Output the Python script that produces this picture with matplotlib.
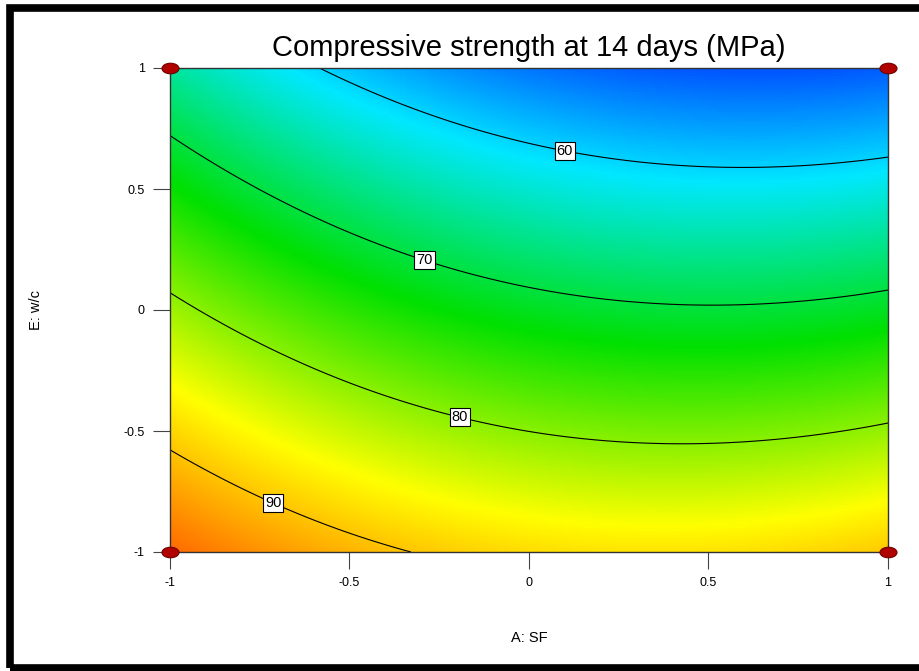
import numpy as np
import matplotlib
matplotlib.use("Agg")
import matplotlib.pyplot as plt
from matplotlib.colors import LinearSegmentedColormap
from matplotlib.patches import Rectangle
from matplotlib.path import Path
from matplotlib.transforms import Affine2D

plt.rcParams['font.family'] = ['Liberation Sans', 'DejaVu Sans']

# quadratic model: b0, bA, bE, bAA, bEE, bAE
coef = [71.57, -4.8, -16.8, 4.73, 0.0, -1.4]
levels = [60, 70, 80, 90]
label_pos = [(0.10, 0.66), (-0.29, 0.21), (-0.19, -0.43), (-0.71, -0.79)]

# design points at the corners
pts_A = [-1, 1, -1, 1]
pts_E = [-1, -1, 1, 1]

xticks = [-1, -0.5, 0, 0.5, 1]
yticks = [-1, -0.5, 0, 0.5, 1]

a = np.linspace(-1, 1, 300)
e = np.linspace(-1, 1, 300)
A, E = np.meshgrid(a, e)
b0, bA, bE, bAA, bEE, bAE = coef
Z = b0 + bA * A + bE * E + bAA * A**2 + bEE * E**2 + bAE * A * E

# colour stops (value -> colour), Design-Expert like rainbow
vmin, vmax = 48, 104
stops = [(48, "#0000ff"), (61, "#00e8ff"), (73, "#00e000"),
         (86, "#ffff00"), (104, "#ff0000")]
cmap = LinearSegmentedColormap.from_list(
    "de", [((v - vmin) / (vmax - vmin), c) for v, c in stops])

fig = plt.figure(figsize=(9.2, 6.71), dpi=100)
ax = fig.add_axes([170 / 920, 119 / 671, 718 / 920, 484 / 671])

ax.imshow(Z, extent=[-1, 1, -1, 1], origin="lower", cmap=cmap,
          vmin=vmin, vmax=vmax, aspect="auto", interpolation="bilinear")
cs = ax.contour(A, E, Z, levels=levels, colors="black", linewidths=0.8)
labels = ax.clabel(cs, fmt="%d", fontsize=10.5, inline=False, manual=label_pos)
for t in labels:
    t.set_rotation(0)
    t.set_bbox(dict(facecolor="white", edgecolor="black", pad=1.5, linewidth=0.8))

ell = Path.unit_circle().transformed(Affine2D().scale(1, 0.62))
ax.scatter(pts_A, pts_E, marker=ell, s=150, color="#b00000",
           edgecolors="#700000", linewidths=0.8, clip_on=False, zorder=5)

ax.set_xlim(-1, 1)
ax.set_ylim(-1, 1)
ax.set_xticks(xticks)
ax.set_yticks(yticks)
ax.set_xticklabels(["-1", "-0.5", "0", "0.5", "1"])
ax.set_yticklabels(["-1", "-0.5", "0", "0.5", "1"])
ax.tick_params(direction="out", length=12, width=0.8, color="#444444",
               labelsize=9, pad=6)
for s in ax.spines.values():
    s.set_color("#333333")
    s.set_linewidth(1.0)

ax.set_title("Compressive strength at 14 days (MPa)", fontsize=21, pad=9)
ax.set_xlabel("A: SF", fontsize=10.5, labelpad=30)
ax.set_ylabel("E: w/c", fontsize=10.5, labelpad=58)

# thick black frame, right side runs past the image edge
fig.patches.append(Rectangle((10.5 / 920, 3.5 / 671), (930 - 10.5) / 920, 660 / 671,
                             transform=fig.transFigure, fill=False,
                             edgecolor="black", linewidth=5.5))

fig.savefig("out.png", dpi=100)
